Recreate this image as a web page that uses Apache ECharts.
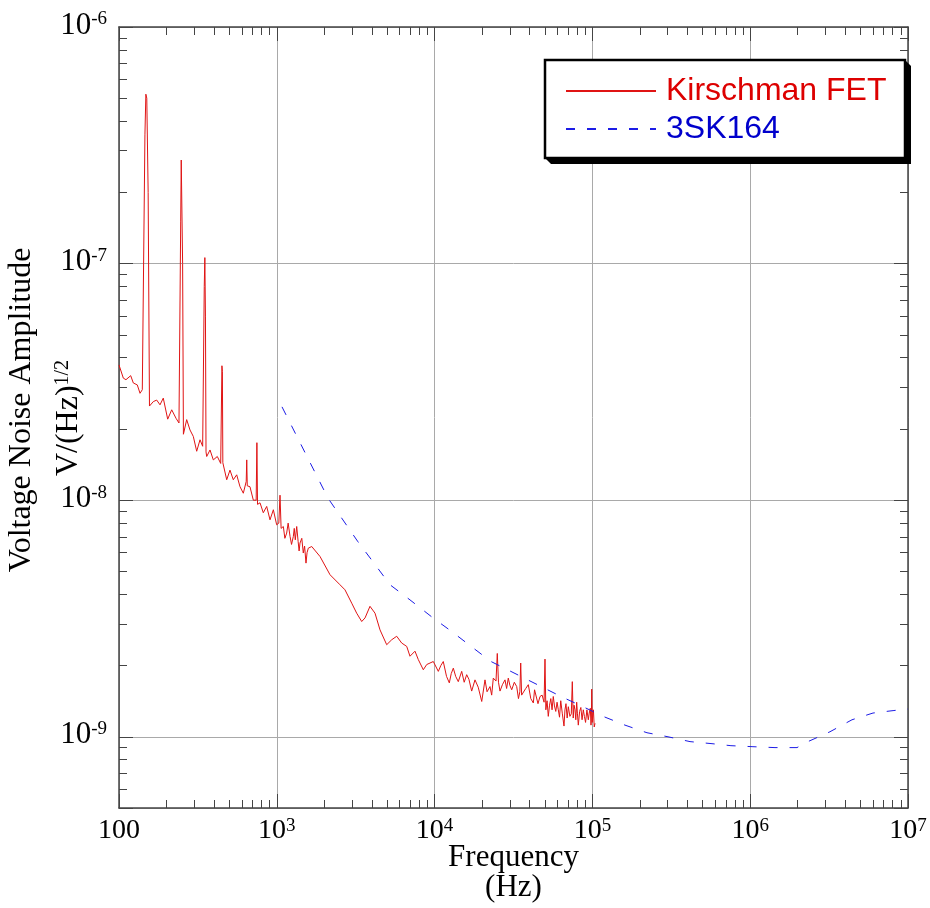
<!DOCTYPE html>
<html>
<head>
<meta charset="utf-8">
<script src="https://cdn.jsdelivr.net/npm/echarts@6/dist/echarts.min.js"></script>
<style>
  html, body { margin: 0; padding: 0; background: #fff; }
  #chart { width: 930px; height: 908px; }
</style>
</head>
<body>
<div id="chart"></div>
<script>
// Kirschman FET input noise spectrum (Hz, V/sqrt(Hz))
const kirschmanFreq = [
  100, 106.5, 110.7, 118.6, 123.2, 130.6, 135.9, 140.5, 143, 146, 148, 150, 153, 156,
  159.5, 165, 173.3, 181.9, 190.8, 203.5, 215.8, 229.7, 239.9, 243, 246, 248, 250, 253, 256,
  258.2, 268.5, 281.8, 295.7, 310.7, 326.1, 339, 343, 347, 350, 353, 356,
  359.6, 377.4, 396, 419.7, 441, 445, 449, 452, 455,
  462.9, 481.5, 505, 530, 557, 584.6, 613.5, 640, 645, 650, 676, 710, 740, 748, 755,
  782.6, 821, 863, 905.7, 951, 998, 1030, 1048, 1065,
  1100, 1125, 1155, 1180, 1213, 1240, 1273, 1290, 1310, 1337, 1365, 1385, 1403, 1440, 1472, 1500, 1531, 1555, 1584,
  1665, 1879, 2174, 2515, 2705, 2984, 3208, 3452, 3624, 3895, 4191,
  4509, 4971, 5346, 5752, 6187, 6657, 6982, 7512, 7883, 8480, 8913, 9813,
  10557, 10950, 11350, 11900, 12396, 12750, 13140, 13600, 14130, 14850, 15400, 15970, 16500, 17180, 18030, 18900,
  19890, 20860, 21500, 22440, 23000, 23550, 24500, 24960, 25400, 25970, 26900, 27930, 28600, 29310, 30000, 30810,
  32000, 33140, 34000, 34700, 35130, 35600, 36480, 37800, 39250, 40700, 42230, 43000, 44000, 45200, 46560, 48000,
  49400, 50070, 50700, 51600, 52540, 53500, 54500, 55500, 56500, 57500, 58600, 59700, 60810, 61900, 63000, 64500,
  66070, 67000, 68000, 69200, 70370, 72000, 73500, 74590, 75600, 76500, 77580, 78500, 79500, 80400, 81410, 83000,
  84500, 86000, 87570, 89000, 90500, 92300, 94190, 95500, 97000, 98000, 98500, 99000, 99800, 100600, 101500,
  102700, 103900
];
const kirschmanAmp = [
  3.73e-8, 3.28e-8, 3.23e-8, 3.36e-8, 3.13e-8, 3.07e-8, 2.83e-8, 2.93e-8, 2.9e-8, 3.5e-7, 5.2e-7, 5.0e-7, 2.0e-7, 2.5e-8,
  2.49e-8, 2.61e-8, 2.65e-8, 2.53e-8, 2.70e-8, 2.20e-8, 2.41e-8, 2.22e-8, 2.12e-8, 2.1e-8, 1.5e-7, 2.74e-7, 2.7e-7, 1.0e-7, 1.9e-8,
  1.92e-8, 2.19e-8, 1.98e-8, 1.86e-8, 1.61e-8, 1.80e-8, 1.69e-8, 1.7e-8, 8.0e-8, 1.06e-7, 6.0e-8, 1.6e-8,
  1.53e-8, 1.63e-8, 1.48e-8, 1.53e-8, 1.43e-8, 1.45e-8, 3.7e-8, 3.5e-8, 1.44e-8,
  1.44e-8, 1.22e-8, 1.34e-8, 1.22e-8, 1.28e-8, 1.14e-8, 1.07e-8, 1.2e-8, 1.48e-8, 1.15e-8, 1.14e-8, 1.00e-8, 1.0e-8, 1.75e-8, 9.6e-9,
  9.75e-9, 8.85e-9, 9.41e-9, 8.26e-9, 9.11e-9, 7.87e-9, 8.0e-9, 1.05e-8, 7.6e-9,
  7.74e-9, 6.9e-9, 7.26e-9, 8.0e-9, 7.03e-9, 6.5e-9, 7.03e-9, 7.6e-9, 6.8e-9, 7.74e-9, 6.7e-9, 6.1e-9, 6.59e-9, 6.9e-9, 5.98e-9, 6.4e-9, 5.42e-9, 6.0e-9, 6.27e-9,
  6.37e-9, 5.78e-9, 4.84e-9, 4.39e-9, 4.18e-9, 3.67e-9, 3.33e-9, 3.07e-9, 3.18e-9, 3.56e-9, 3.33e-9,
  2.83e-9, 2.45e-9, 2.57e-9, 2.66e-9, 2.49e-9, 2.41e-9, 2.19e-9, 2.30e-9, 2.12e-9, 1.92e-9, 2.02e-9, 2.08e-9,
  1.89e-9, 2.0e-9, 2.08e-9, 1.80e-9, 1.69e-9, 1.85e-9, 1.95e-9, 1.80e-9, 1.71e-9, 1.89e-9, 1.70e-9, 1.83e-9, 1.75e-9, 1.56e-9, 1.74e-9, 1.62e-9,
  1.41e-9, 1.74e-9, 1.55e-9, 1.63e-9, 1.50e-9, 1.77e-9, 1.72e-9, 2.25e-9, 1.70e-9, 1.56e-9, 1.66e-9, 1.74e-9, 1.60e-9, 1.77e-9, 1.65e-9, 1.58e-9,
  1.70e-9, 1.63e-9, 1.45e-9, 1.55e-9, 2.05e-9, 1.50e-9, 1.48e-9, 1.60e-9, 1.66e-9, 1.45e-9, 1.39e-9, 1.58e-9, 1.55e-9, 1.38e-9, 1.48e-9, 1.50e-9,
  1.40e-9, 2.13e-9, 1.30e-9, 1.42e-9, 1.22e-9, 1.36e-9, 1.45e-9, 1.30e-9, 1.48e-9, 1.35e-9, 1.28e-9, 1.40e-9, 1.30e-9, 1.21e-9, 1.42e-9, 1.25e-9,
  1.11e-9, 1.30e-9, 1.38e-9, 1.20e-9, 1.34e-9, 1.22e-9, 1.25e-9, 1.71e-9, 1.20e-9, 1.36e-9, 1.30e-9, 1.18e-9, 1.40e-9, 1.25e-9, 1.12e-9, 1.28e-9,
  1.33e-9, 1.18e-9, 1.30e-9, 1.22e-9, 1.15e-9, 1.30e-9, 1.18e-9, 1.26e-9, 1.32e-9, 1.12e-9, 1.20e-9, 1.59e-9, 1.15e-9, 1.25e-9, 1.30e-9,
  1.10e-9, 1.14e-9
];

// 3SK164 noise curve
const sk164Freq = [
  1079, 1509, 2111, 3269, 4071, 5218, 6982, 9771, 12890, 16760, 22780, 31400, 43280, 63240,
  87190, 116800, 160900, 221800, 301300, 415500, 572800, 755100, 1041000, 1436000, 1980000,
  2323000, 3203000, 4416000, 6000000, 8040000, 10000000
];
const sk164Amp = [
  2.48e-8, 1.59e-8, 1.02e-8, 6.67e-9, 5.49e-9, 4.39e-9, 3.79e-9, 3.18e-9, 2.78e-9, 2.43e-9, 2.08e-9, 1.87e-9, 1.68e-9, 1.48e-9,
  1.34e-9, 1.22e-9, 1.12e-9, 1.04e-9, 1.00e-9, 9.54e-10, 9.35e-10, 9.17e-10, 9.08e-10, 9.0e-10, 9.0e-10,
  9.54e-10, 1.05e-9, 1.18e-9, 1.26e-9, 1.29e-9, 1.31e-9
];

// Axis ranges and decade labels (base, superscript)
const xRange = [100, 1e7];
const yRange = [5e-10, 1e-6];
const xTickExps = [2, 3, 4, 5, 6, 7];
const xTickLabels = [['100', ''], ['10', '3'], ['10', '4'], ['10', '5'], ['10', '6'], ['10', '7']];
const yTickExps = [-9, -8, -7, -6];
const yTickLabels = [['10', '-9'], ['10', '-8'], ['10', '-7'], ['10', '-6']];

const SERIF = '"Liberation Serif", "Times New Roman", serif';
const SANS = '"Liberation Sans", Arial, sans-serif';
const AXIS_COLOR = '#444';

function zip(xs, ys) { return xs.map((x, i) => [x, ys[i]]); }

// 2..9 x 10^n positions inside a range, for the short log ticks
function minorTicks(lo, hi) {
  const out = [];
  for (let e = Math.floor(Math.log10(lo)); e < Math.ceil(Math.log10(hi)); e++) {
    for (let k = 2; k <= 9; k++) {
      const v = k * Math.pow(10, e);
      if (v > lo * 1.0001 && v < hi / 1.0001) out.push(v);
    }
  }
  return out;
}

function decadeFormatter(exps, labels) {
  return function (v) {
    const l = Math.log10(v);
    const e = Math.round(l);
    if (Math.abs(l - e) > 1e-6) return '';
    const i = exps.indexOf(e);
    if (i < 0) return '';
    const [b, s] = labels[i];
    return s ? '{b|' + b + '}{s|' + s + '}' : '{b|' + b + '}';
  };
}

function frameAxis(base, extra) {
  return Object.assign({
    type: 'log', logBase: 10, gridIndex: 0,
    axisLine: { show: true, lineStyle: { color: AXIS_COLOR, width: 1.5 } },
    axisTick: { show: true, inside: true, length: 14, lineStyle: { color: AXIS_COLOR, width: 1 } },
    axisLabel: { show: false },
    splitLine: { show: false },
    minorTick: { show: false },
    silent: true
  }, base, extra);
}

function minorAxis(base, values) {
  return Object.assign({
    type: 'log', logBase: 10, gridIndex: 0,
    axisLine: { show: false },
    axisTick: { show: true, inside: true, length: 8, customValues: values, lineStyle: { color: AXIS_COLOR, width: 1 } },
    axisLabel: { show: false },
    splitLine: { show: false },
    silent: true
  }, base);
}

const xMinor = minorTicks(xRange[0], xRange[1]);
const yMinor = minorTicks(yRange[0], yRange[1]);
const xBase = { min: xRange[0], max: xRange[1] };
const yBase = { min: yRange[0], max: yRange[1] };

// legend panel geometry
const LEG = { x: 545, y: 60, w: 360, h: 98, depth: 6 };

const chart = echarts.init(document.getElementById('chart'), null, { renderer: 'canvas' });

chart.setOption({
  animation: false,
  backgroundColor: '#fff',
  grid: { left: 119, top: 27, right: 22, bottom: 100, containLabel: false, outerBoundsMode: 'none' },
  xAxis: [
    frameAxis(xBase, {
      position: 'bottom',
      splitLine: { show: true, lineStyle: { color: '#a9a9a9', width: 1 } },
      axisLabel: {
        show: true, margin: 9, color: '#000',
        formatter: decadeFormatter(xTickExps, xTickLabels),
        rich: {
          b: { fontFamily: SERIF, fontSize: 28, lineHeight: 28, color: '#000' },
          s: { fontFamily: SERIF, fontSize: 19, lineHeight: 19, verticalAlign: 'top', color: '#000' }
        }
      },
      name: 'Frequency\n(Hz)',
      nameLocation: 'middle',
      nameGap: 35,
      nameMoveOverlap: false,
      nameTextStyle: { fontFamily: SERIF, fontSize: 31, lineHeight: 30, color: '#000' }
    }),
    minorAxis(Object.assign({ position: 'bottom' }, xBase), xMinor),
    frameAxis(xBase, { position: 'top' }),
    minorAxis(Object.assign({ position: 'top' }, xBase), xMinor)
  ],
  yAxis: [
    frameAxis(yBase, {
      position: 'left',
      splitLine: { show: true, lineStyle: { color: '#a9a9a9', width: 1 } },
      axisLabel: {
        show: true, margin: 12, color: '#000',
        padding: [0, 0, 3, 0],
        formatter: decadeFormatter(yTickExps, yTickLabels),
        rich: {
          b: { fontFamily: SERIF, fontSize: 31, lineHeight: 31, color: '#000' },
          s: { fontFamily: SERIF, fontSize: 19, lineHeight: 19, verticalAlign: 'top', color: '#000' }
        }
      }
    }),
    minorAxis(Object.assign({ position: 'left' }, yBase), yMinor),
    frameAxis(yBase, { position: 'right' }),
    minorAxis(Object.assign({ position: 'right' }, yBase), yMinor)
  ],
  legend: {
    orient: 'vertical',
    left: LEG.x, top: LEG.y + 1,
    itemWidth: 90, itemHeight: 14, itemGap: 6,
    padding: [14, 20, 14, 20],
    backgroundColor: 'transparent',
    borderWidth: 0,
    selectedMode: false,
    itemStyle: { opacity: 0 },
    textStyle: { fontFamily: SANS, fontSize: 32, lineHeight: 32, padding: [0, 0, 0, 5] },
    data: [
      { name: 'Kirschman FET', textStyle: { color: '#dd0000' } },
      { name: '3SK164', textStyle: { color: '#0000cc' } }
    ]
  },
  graphic: [
    {
      // extruded drop shadow of the legend panel
      type: 'polygon', z: 3, silent: true,
      shape: {
        points: [
          [LEG.x + LEG.w, LEG.y], [LEG.x + LEG.w + LEG.depth, LEG.y + LEG.depth],
          [LEG.x + LEG.w + LEG.depth, LEG.y + LEG.h + LEG.depth], [LEG.x + LEG.depth, LEG.y + LEG.h + LEG.depth],
          [LEG.x, LEG.y + LEG.h]
        ]
      },
      style: { fill: '#000' }
    },
    {
      type: 'rect', z: 3, silent: true,
      shape: { x: LEG.x, y: LEG.y, width: LEG.w, height: LEG.h },
      style: { fill: '#fff', stroke: '#000', lineWidth: 2.5 }
    },
    {
      type: 'text', x: 22, y: 410, rotation: Math.PI / 2, silent: true,
      style: {
        text: 'Voltage Noise Amplitude', fill: '#000',
        fontFamily: SERIF, fontSize: 32,
        align: 'center', verticalAlign: 'middle'
      }
    },
    {
      type: 'text', x: 69, y: 418, rotation: Math.PI / 2, silent: true,
      style: {
        text: '{m|V/(Hz)}{s|1/2}', fill: '#000',
        align: 'center', verticalAlign: 'middle',
        rich: {
          m: { fontFamily: SERIF, fontSize: 32, lineHeight: 32, fill: '#000' },
          s: { fontFamily: SERIF, fontSize: 20, lineHeight: 20, verticalAlign: 'top', fill: '#000' }
        }
      }
    }
  ],
  series: [
    {
      name: 'Kirschman FET', type: 'line',
      xAxisIndex: 0, yAxisIndex: 0,
      data: zip(kirschmanFreq, kirschmanAmp),
      symbol: 'none', showSymbol: false, silent: true,
      lineStyle: { color: '#e01414', width: 1 },
      itemStyle: { color: '#e01414' }
    },
    {
      name: '3SK164', type: 'line',
      xAxisIndex: 0, yAxisIndex: 0,
      data: zip(sk164Freq, sk164Amp),
      symbol: 'none', showSymbol: false, silent: true,
      lineStyle: { color: '#1c1ce6', width: 1, type: [9, 12] },
      itemStyle: { color: '#1c1ce6' }
    }
  ]
});
</script>
</body>
</html>
